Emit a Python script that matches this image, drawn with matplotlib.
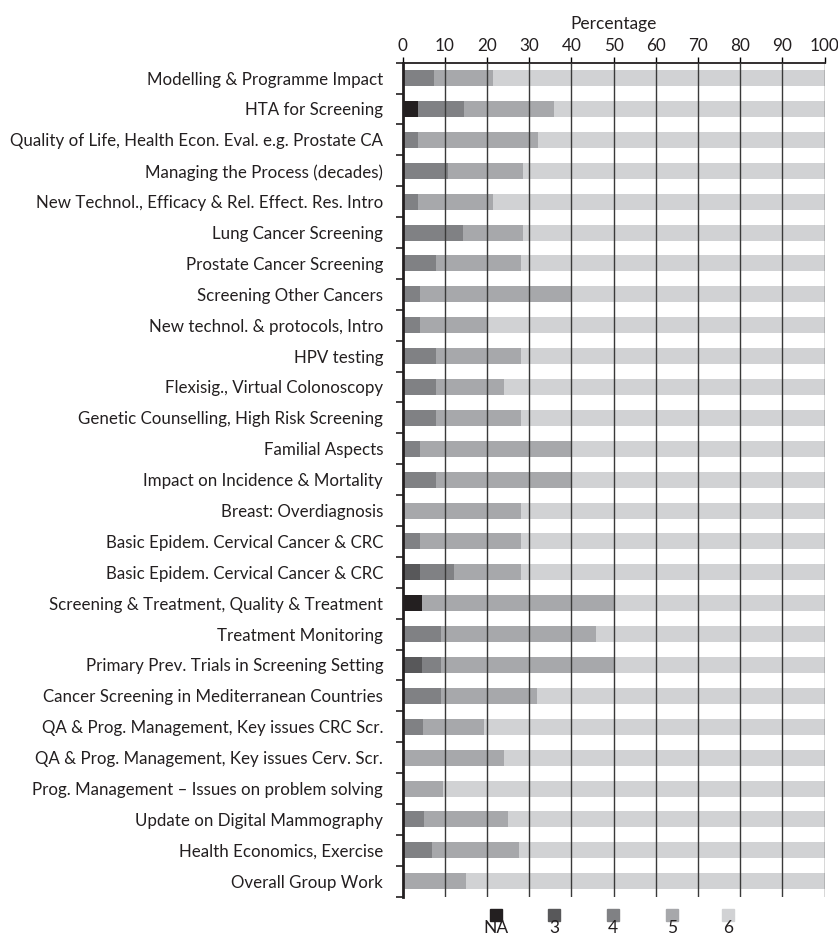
import numpy as np
import matplotlib.pyplot as plt
from matplotlib.patches import Rectangle

plt.rcParams['font.family'] = ['Lato', 'DejaVu Sans']

categories = [
    "Modelling & Programme Impact",
    "HTA for Screening",
    "Quality of Life, Health Econ. Eval. e.g. Prostate CA",
    "Managing the Process (decades)",
    "New Technol., Efficacy & Rel. Effect. Res. Intro",
    "Lung Cancer Screening",
    "Prostate Cancer Screening",
    "Screening Other Cancers",
    "New technol. & protocols, Intro",
    "HPV testing",
    "Flexisig., Virtual Colonoscopy",
    "Genetic Counselling, High Risk Screening",
    "Familial Aspects",
    "Impact on Incidence & Mortality",
    "Breast: Overdiagnosis",
    "Basic Epidem. Cervical Cancer & CRC",
    "Basic Epidem. Cervical Cancer & CRC",
    "Screening & Treatment, Quality & Treatment",
    "Treatment Monitoring",
    "Primary Prev. Trials in Screening Setting",
    "Cancer Screening in Mediterranean Countries",
    "QA & Prog. Management, Key issues CRC Scr.",
    "QA & Prog. Management, Key issues Cerv. Scr.",
    "Prog. Management \u2013 Issues on problem solving",
    "Update on Digital Mammography",
    "Health Economics, Exercise",
    "Overall Group Work",
]

# percentages per score
na = [0, 3.6, 0, 0, 0, 0, 0, 0, 0, 0, 0, 0, 0, 0, 0, 0, 0, 4.6, 0, 0, 0, 0, 0, 0, 0, 0, 0]
s3 = [0, 0, 0, 0, 0, 0, 0, 0, 0, 0, 0, 0, 0, 0, 0, 0, 4.1, 0, 0, 4.6, 0, 0, 0, 0, 0, 0, 0]
s4 = [7.4, 10.9, 3.6, 10.7, 3.6, 14.3, 7.9, 4.1, 4.1, 7.9, 7.9, 7.9, 4.1, 7.9, 0, 4.1,
      8.1, 0, 9.1, 4.5, 9.1, 4.8, 0, 0, 5.0, 6.9, 0]
s5 = [13.9, 21.4, 28.5, 17.8, 17.7, 14.2, 20.1, 36.1, 16.0, 20.1, 16.1, 20.1, 36.1, 32.3,
      28.0, 23.9, 15.8, 45.7, 36.7, 41.2, 22.7, 14.5, 24.0, 9.5, 19.9, 20.6, 15.0]
s6 = [100 - a - b - c - d for a, b, c, d in zip(na, s3, s4, s5)]

series = [na, s3, s4, s5, s6]
series_names = ["NA", "3", "4", "5", "6"]
colors = ["#231f20", "#58585a", "#808184", "#a7a8ab", "#d1d2d4"]

fig = plt.figure(figsize=(8.38, 9.35), dpi=100)
ax = fig.add_axes([0.4805, 0.041, 0.5036, 0.892])

y = np.arange(len(categories))
left = np.zeros(len(categories))
for vals, col in zip(series, colors):
    ax.barh(y, vals, left=left, height=0.52, color=col, zorder=2)
    left += np.array(vals)

ax.set_xlim(0, 100)
ax.set_ylim(len(categories) - 0.5, -0.5)
ax.set_xticks(np.arange(0, 101, 10))
ax.xaxis.tick_top()
ax.xaxis.set_label_position('top')
ax.set_xlabel("Percentage", fontsize=12.5, color="#231f20", labelpad=7)
ax.tick_params(axis='x', direction='out', length=4, width=1, labelsize=12.3,
               labelcolor="#231f20", pad=2)
for xv in np.arange(10, 101, 10):
    ax.axvline(xv, color="#3a3a3a", lw=1.0, zorder=3)

ax.set_yticks(y)
ax.set_yticklabels(categories)
ax.set_yticks(np.arange(-0.5, len(categories)), minor=True)
ax.tick_params(axis='y', which='major', length=0, pad=14, labelsize=12.2,
               labelcolor="#231f20")
ax.tick_params(axis='y', which='minor', direction='out', length=5, width=1.2,
               color="#231f20")

for side in ['right', 'bottom']:
    ax.spines[side].set_visible(False)
ax.spines['top'].set_linewidth(1.3)
ax.spines['top'].set_color("#231f20")
ax.spines['left'].set_linewidth(2.0)
ax.spines['left'].set_color("#231f20")
ax.spines['left'].set_zorder(4)

# legend below the chart
leg_x = [496, 554, 613, 672, 728]
for name, col, lx in zip(series_names, colors, leg_x):
    fig.patches.append(Rectangle(((lx - 6) / 838, 1 - 921 / 935), 12 / 838, 12 / 935,
                                 transform=fig.transFigure, color=col))
    fig.text(lx / 838, 1 - 928 / 935, name, ha='center', va='center',
             fontsize=12.5, color="#231f20")

fig.savefig("out.png", dpi=100)
